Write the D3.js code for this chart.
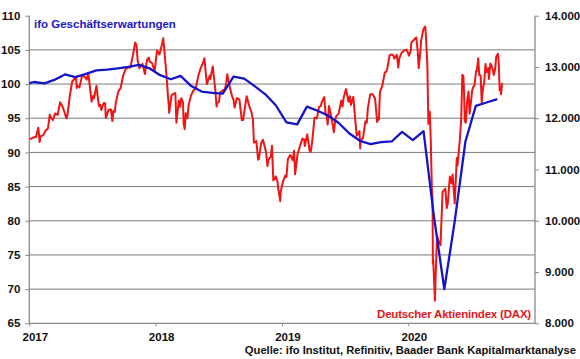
<!DOCTYPE html>
<html><head><meta charset="utf-8">
<script src="https://cdn.jsdelivr.net/npm/d3@7"></script>
<style>
body{margin:0;background:#fff}
svg{display:block}
text{font-family:"Liberation Sans",Arial,sans-serif;font-weight:bold}
</style></head>
<body><svg id="c" width="580" height="359"></svg>
<script>
// ---- data ----
const ifoMonths = ["2016-12","2017-01","2017-02","2017-03","2017-04","2017-05","2017-06","2017-07","2017-08","2017-09","2017-10","2017-11","2017-12",
"2018-01","2018-02","2018-03","2018-04","2018-05","2018-06","2018-07","2018-08","2018-09","2018-10","2018-11","2018-12",
"2019-01","2019-02","2019-03","2019-04","2019-05","2019-06","2019-07","2019-08","2019-09","2019-10","2019-11","2019-12",
"2020-01","2020-02","2020-03","2020-04","2020-05","2020-06","2020-07","2020-08","2020-09"];
const ifoValues = [99.9,100.3,100.1,100.6,101.4,101.0,101.5,102.0,102.1,102.3,102.5,102.8,102.3,
101.3,100.7,101.2,99.7,98.9,98.7,98.6,101.1,100.8,99.7,98.5,96.9,
94.4,94.1,96.7,96.1,95.4,94.3,92.8,91.7,91.2,91.5,91.6,93.0,
91.8,93.1,81.0,70.0,79.9,91.6,96.8,97.3,97.8];

const daxWeekly = [["2017-01-02",11598],["2017-01-06",11599],["2017-01-13",11629],["2017-01-20",11630],["2017-01-27",11814],["2017-01-31",11535],["2017-02-03",11651],["2017-02-10",11666],["2017-02-17",11757],["2017-02-24",11804],["2017-03-03",12027],["2017-03-10",11963],["2017-03-17",12095],["2017-03-24",12064],["2017-03-31",12313],["2017-04-07",12225],["2017-04-13",12109],["2017-04-19",12016],["2017-04-21",12049],["2017-04-28",12438],["2017-05-05",12717],["2017-05-12",12770],["2017-05-19",12638],["2017-05-26",12602],["2017-06-02",12822],["2017-06-09",12815],["2017-06-16",12753],["2017-06-20",12889],["2017-06-23",12733],["2017-06-30",12325],["2017-07-07",12389],["2017-07-14",12631],["2017-07-21",12240],["2017-07-28",12162],["2017-08-04",12297],["2017-08-11",12014],["2017-08-18",12165],["2017-08-25",12168],["2017-08-29",11945],["2017-09-01",12143],["2017-09-08",12303],["2017-09-15",12519],["2017-09-22",12592],["2017-09-29",12829],["2017-10-06",12955],["2017-10-13",12992],["2017-10-20",12991],["2017-10-27",13218],["2017-11-03",13479],["2017-11-07",13406],["2017-11-10",13127],["2017-11-17",12994],["2017-11-24",13060],["2017-12-01",12861],["2017-12-08",13153],["2017-12-15",13104],["2017-12-22",13073],["2017-12-29",12918],
["2018-01-05",13320],["2018-01-12",13245],["2018-01-19",13434],["2018-01-23",13560],["2018-01-26",13340],["2018-02-02",12785],["2018-02-09",12107],["2018-02-16",12452],["2018-02-23",12483],["2018-03-02",11914],["2018-03-09",12346],["2018-03-16",12390],["2018-03-23",11886],["2018-03-26",11787],["2018-03-29",12096],["2018-04-06",12241],["2018-04-13",12442],["2018-04-20",12540],["2018-04-27",12580],["2018-05-04",12820],["2018-05-11",12977],["2018-05-18",13078],["2018-05-25",12938],["2018-05-29",12666],["2018-06-01",12724],["2018-06-08",12767],["2018-06-15",13011],["2018-06-22",12580],["2018-06-29",12306],["2018-07-06",12496],["2018-07-13",12541],["2018-07-20",12561],["2018-07-27",12860],["2018-08-03",12616],["2018-08-10",12425],["2018-08-17",12211],["2018-08-24",12394],["2018-08-31",12364],["2018-09-07",11959],["2018-09-14",12124],["2018-09-21",12431],["2018-09-28",12247],["2018-10-05",12111],["2018-10-12",11524],["2018-10-19",11554],["2018-10-26",11201],["2018-11-02",11519],["2018-11-09",11529],["2018-11-16",11342],["2018-11-23",11193],["2018-11-30",11257],["2018-12-07",10788],["2018-12-14",10866],["2018-12-21",10634],["2018-12-27",10382],["2018-12-28",10559],
["2019-01-04",10767],["2019-01-11",10887],["2019-01-18",11205],["2019-01-25",11282],["2019-02-01",11181],["2019-02-08",10906],["2019-02-15",11299],["2019-02-22",11457],["2019-03-01",11602],["2019-03-08",11458],["2019-03-15",11686],["2019-03-22",11364],["2019-03-29",11526],["2019-04-05",12010],["2019-04-12",11999],["2019-04-18",12222],["2019-04-26",12315],["2019-05-03",12413],["2019-05-10",12060],["2019-05-17",12239],["2019-05-24",12011],["2019-05-31",11727],["2019-06-07",12045],["2019-06-14",12096],["2019-06-21",12340],["2019-06-28",12399],["2019-07-05",12568],["2019-07-12",12323],["2019-07-19",12260],["2019-07-26",12419],["2019-08-02",11872],["2019-08-09",11694],["2019-08-15",11412],["2019-08-16",11563],["2019-08-23",11612],["2019-08-30",11939],["2019-09-06",12192],["2019-09-13",12469],["2019-09-20",12468],["2019-09-27",12381],["2019-10-03",11925],["2019-10-04",12013],["2019-10-11",12512],["2019-10-18",12634],["2019-10-25",12895],["2019-11-01",12961],["2019-11-08",13229],["2019-11-15",13242],["2019-11-22",13164],["2019-11-29",13236],["2019-12-06",13166],["2019-12-13",13283],["2019-12-20",13319],["2019-12-27",13337],
["2020-01-03",13219],["2020-01-10",13483],["2020-01-17",13526],["2020-01-24",13577],["2020-01-31",12982],["2020-02-07",13514],["2020-02-14",13745],["2020-02-19",13789],["2020-02-21",13579],["2020-02-25",13035],["2020-02-28",11890],["2020-03-03",12127],["2020-03-06",11542],["2020-03-09",10625],["2020-03-11",10439],["2020-03-12",9161],["2020-03-13",9232],["2020-03-16",8742],["2020-03-18",8442],["2020-03-20",8929],["2020-03-24",9700],["2020-03-27",9633],["2020-04-01",9544],["2020-04-03",9525],["2020-04-09",10565],["2020-04-17",10626],["2020-04-21",10249],["2020-04-24",10336],["2020-04-30",10862],["2020-05-08",10904],["2020-05-14",10337],["2020-05-15",10465],["2020-05-22",11074],["2020-05-29",11587],["2020-06-05",12848],["2020-06-08",12820],["2020-06-12",11949],["2020-06-15",11911],["2020-06-19",12331],["2020-06-26",12089],["2020-07-03",12528],["2020-07-10",12633],["2020-07-17",12920],["2020-07-24",12838],["2020-07-31",12313],["2020-08-07",12674],["2020-08-14",12901],["2020-08-21",12765],["2020-08-28",13033],["2020-09-04",12842],["2020-09-11",13203],["2020-09-16",13255],["2020-09-18",13116],["2020-09-21",12542],["2020-09-24",12606],["2020-09-25",12469],["2020-09-28",12690]];

const daxMidweek = [["2017-03-01",12067],["2017-04-18",12000],["2017-05-16",12804],["2017-05-18",12590],["2017-07-05",12437],["2017-07-25",12264],["2017-08-08",12292],["2017-08-10",12015],["2017-09-05",12124],["2017-11-15",12976],["2017-12-05",13048],["2017-12-12",13183],
["2018-02-06",12392],["2018-02-08",12260],["2018-02-27",12490],["2018-03-13",12221],["2018-03-21",12309],["2018-04-03",12002],["2018-05-22",13169],["2018-06-06",12830],["2018-06-26",12228],["2018-07-03",12318],["2018-07-24",12689],["2018-08-14",12358],["2018-09-11",11970],["2018-10-09",11977],["2018-10-24",11192],["2018-11-07",11579],["2018-11-20",11066],["2018-12-03",11465],["2018-12-11",10813],["2018-12-19",10766],
["2019-01-14",10855],["2019-02-05",11367],["2019-03-06",11588],["2019-03-25",11346],["2019-04-23",12236],["2019-05-07",12093],["2019-05-13",11877],["2019-06-04",11971],["2019-06-25",12228],["2019-07-16",12430],["2019-08-05",11658],["2019-08-13",11750],["2019-09-03",11911],["2019-10-08",11970],["2019-10-30",12910],["2019-11-19",13221],["2019-12-03",12989],
["2020-01-08",13321],["2020-01-28",13324],["2020-02-04",13250],["2020-05-05",10729],["2020-05-20",11223],["2020-06-02",12021],["2020-06-10",12530],["2020-06-23",12523],["2020-06-30",12311],["2020-07-07",12616],["2020-07-15",12931],["2020-07-21",13171],["2020-07-28",12836],["2020-08-04",12600],["2020-08-11",13059],["2020-08-19",12977],["2020-08-25",13066],["2020-09-01",12945],["2020-09-08",12968]];

const leftTicks = [65,70,75,80,85,90,95,100,105,110];
const rightTicks = [8000,9000,10000,11000,12000,13000,14000];
const yearTicks = ["2017","2018","2019","2020"];
const ifoLabel = "ifo Geschäftserwartungen";
const daxLabel = "Deutscher Aktienindex (DAX)";
const sourceLabel = "Quelle: ifo Institut, Refinitiv, Baader Bank Kapitalmarktanalyse";

// ---- chart ----
const svg = d3.select("#c");
const L = 29.3, R = 535, T = 15.7, B = 323.3;
const parse = d3.timeParse("%Y-%m-%d");
const x = d3.scaleTime().domain([new Date(2017,0,1), new Date(2021,0,1)]).range([L, R]);
const yL = d3.scaleLinear().domain([65,110]).range([B, T]);
const yR = d3.scaleLinear().domain([8000,14000]).range([B, T]);
const de = d3.formatLocale({decimal:",", thousands:".", grouping:[3], currency:["","€"]});
const fmtR = de.format(",.0f");
const grey = "#8a8a8a";

// gridlines
svg.append("g").selectAll("line").data(leftTicks.filter(d => d > 65 && d < 110)).join("line")
  .attr("x1", L).attr("x2", R).attr("y1", d => yL(d)).attr("y2", d => yL(d))
  .attr("stroke", "#7a7a7a").attr("stroke-width", 1);

// axes
const axL = svg.append("g").attr("transform", `translate(${L},0)`)
  .call(d3.axisLeft(yL).tickValues(leftTicks).tickSize(4).tickPadding(5));
const axR = svg.append("g").attr("transform", `translate(${R},0)`)
  .call(d3.axisRight(yR).tickValues(rightTicks).tickSize(4).tickPadding(6).tickFormat(fmtR));
const axB = svg.append("g").attr("transform", `translate(0,${B})`)
  .call(d3.axisBottom(x).tickValues(yearTicks.map(y => new Date(+y,0,1))).tickSize(3).tickPadding(7).tickFormat(d3.timeFormat("%Y")));
[axL, axR, axB].forEach(a => {
  a.select(".domain").attr("stroke", grey).attr("stroke-width", 1.3);
  a.selectAll(".tick line").attr("stroke", grey);
  a.selectAll("text").attr("fill", "#111").style("font-size", "11.5px").style("font-weight", "bold")
   .style("font-family", '"Liberation Sans", Arial, sans-serif');
});
axB.selectAll(".tick text").attr("dx", 5.5);
axB.select(".domain").attr("d", `M${L},0H${R}`);
axL.select(".domain").attr("d", `M0,${T}V${B}`);
axR.select(".domain").attr("d", `M0,${T}V${B}`);

// clip
svg.append("clipPath").attr("id", "clip").append("rect").attr("x", L).attr("y", T - 2).attr("width", R - L).attr("height", B - T + 4);

// DAX
const dax = d3.sort(daxWeekly.concat(daxMidweek), d => d[0]);
const daxLine = d3.line().x(d => x(parse(d[0]))).y(d => yR(d[1]));
svg.append("path").datum(dax).attr("d", daxLine).attr("fill", "none")
  .attr("stroke", "#f01414").attr("stroke-width", 2).attr("stroke-linejoin", "round")
  .attr("clip-path", "url(#clip)");

// ifo
const ifoData = ifoMonths.map((m, i) => [parse(m + "-14"), ifoValues[i]]);
const ifoLine = d3.line().x(d => x(d[0])).y(d => yL(d[1]));
svg.append("path").datum(ifoData).attr("d", ifoLine).attr("fill", "none")
  .attr("stroke", "#1414c8").attr("stroke-width", 2.3).attr("stroke-linejoin", "round")
  .attr("clip-path", "url(#clip)");

// labels
svg.append("text").attr("x", 34).attr("y", 28).attr("fill", "#1a1ac4").style("font-size", "11.5px").text(ifoLabel);
svg.append("text").attr("x", 531).attr("y", 317.5).attr("text-anchor", "end").attr("fill", "#e3161e").style("font-size", "11.5px").style("letter-spacing", "-0.2px").text(daxLabel);
svg.append("text").attr("x", 576).attr("y", 353.5).attr("text-anchor", "end").attr("fill", "#111").style("font-size", "11.2px").text(sourceLabel);
</script></body></html>
